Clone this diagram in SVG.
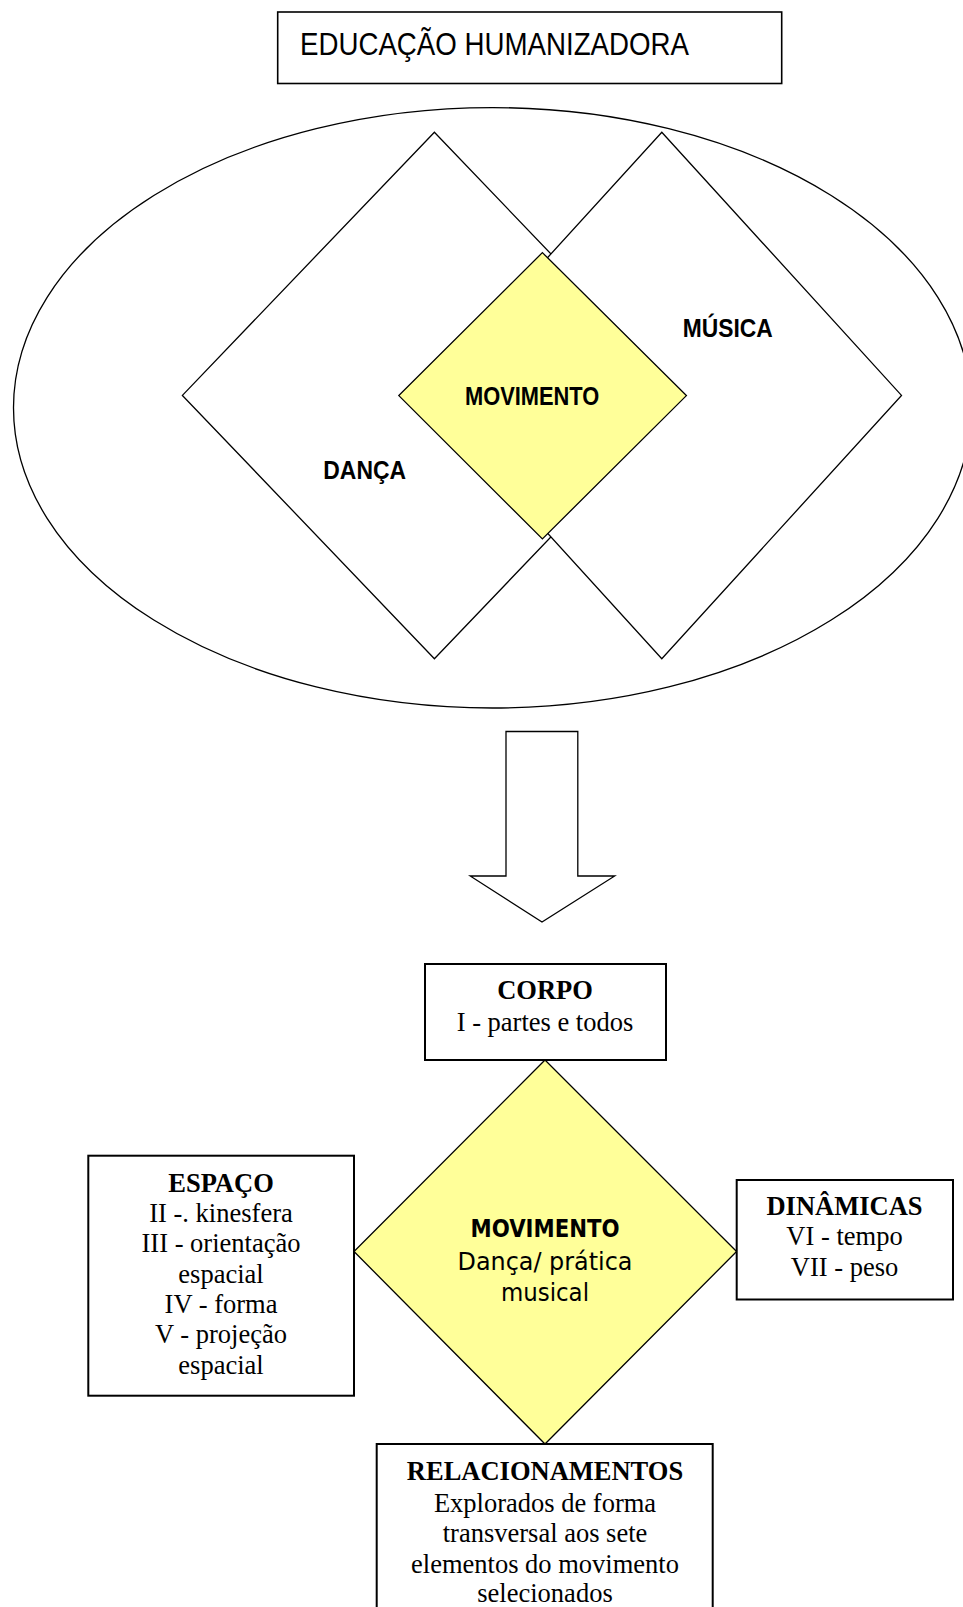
<svg xmlns="http://www.w3.org/2000/svg" width="963" height="1607" viewBox="0 0 963 1607">
<style>
.ln{fill:#fff;stroke:#000;stroke-width:1.3}
.yl{fill:#ffff99;stroke:#000;stroke-width:1.3}
.bx{fill:#fff;stroke:#000;stroke-width:2}
.nar{font-family:"Liberation Sans",Arial,sans-serif;fill:#000}
.nb{font-family:"Liberation Sans",Arial,sans-serif;font-weight:bold;font-size:26.5px;fill:#000}
.sf{font-family:"Liberation Serif","Times New Roman",serif;font-size:26.5px;fill:#000;text-anchor:middle}
.sfb{font-weight:bold}
.ss{font-family:"DejaVu Sans",Verdana,sans-serif;font-size:24px;fill:#000;text-anchor:middle}
</style>
<rect width="963" height="1607" fill="#fff"/>
<g id="title">
<rect x="277.7" y="12" width="504" height="71.5" class="bx" style="stroke-width:1.6"/>
<text x="300" y="54.5" class="nar" font-size="31.5" textLength="389" lengthAdjust="spacingAndGlyphs">EDUCAÇÃO HUMANIZADORA</text>
</g>
<g id="ellipse">
<ellipse cx="492.5" cy="407.8" rx="479" ry="300.2" class="ln"/>
</g>
<g id="danca">
<polygon points="434.4,132.2 686.4,395.4 434.4,658.7 182.4,395.4" class="ln"/>
<text x="323.3" y="479.3" class="nb" textLength="82.7" lengthAdjust="spacingAndGlyphs">DANÇA</text>
</g>
<g id="musica">
<polygon points="661.8,132.2 901.5,395.4 661.8,658.7 422.1,395.4" class="ln"/>
<text x="682.7" y="337.3" class="nb" textLength="90" lengthAdjust="spacingAndGlyphs">MÚSICA</text>
</g>
<g id="movimento-top">
<polygon points="542.4,252.6 686.4,395.6 542.4,538.9 398.8,395.6" class="yl"/>
<text x="465" y="405.3" class="nb" font-size="25" textLength="134.3" lengthAdjust="spacingAndGlyphs">MOVIMENTO</text>
</g>
<g id="connectors">
<polygon points="506,731.5 577.8,731.5 577.8,876 614.7,876 542,922 470.2,876 506,876" class="ln"/>
</g>
<g id="corpo">
<rect x="425" y="964" width="241" height="96" class="bx"/>
<text x="545" y="999.3" class="sf sfb">CORPO</text>
<text x="545" y="1031" class="sf">I - partes e todos</text>
</g>
<g id="movimento">
<polygon points="545,1060 736.6,1251.5 545,1444 354,1251.5" class="yl"/>
<text x="545" y="1237" class="ss" font-weight="bold" textLength="149" lengthAdjust="spacingAndGlyphs">MOVIMENTO</text>
<text x="545" y="1269.5" class="ss" textLength="175" lengthAdjust="spacingAndGlyphs">Dança/ prática</text>
<text x="545" y="1301" class="ss" textLength="88" lengthAdjust="spacingAndGlyphs">musical</text>
</g>
<g id="espaco">
<rect x="88.3" y="1155.7" width="265.7" height="240" class="bx"/>
<text x="221" y="1191.7" class="sf sfb">ESPAÇO</text>
<text x="221" y="1222" class="sf">II -. kinesfera</text>
<text x="221" y="1252.3" class="sf">III - orientação</text>
<text x="221" y="1282.6" class="sf">espacial</text>
<text x="221" y="1312.9" class="sf">IV - forma</text>
<text x="221" y="1343.2" class="sf">V - projeção</text>
<text x="221" y="1373.5" class="sf">espacial</text>
</g>
<g id="dinamicas">
<rect x="736.7" y="1180" width="216.3" height="119.5" class="bx"/>
<text x="844.5" y="1215" class="sf sfb">DINÂMICAS</text>
<text x="844.5" y="1245.3" class="sf">VI - tempo</text>
<text x="844.5" y="1275.6" class="sf">VII - peso</text>
</g>
<g id="relacionamentos">
<rect x="376.7" y="1444" width="336" height="175" class="bx"/>
<text x="545" y="1480" class="sf sfb">RELACIONAMENTOS</text>
<text x="545" y="1511.5" class="sf">Explorados de forma</text>
<text x="545" y="1542" class="sf">transversal aos sete</text>
<text x="545" y="1572.5" class="sf">elementos do movimento</text>
<text x="545" y="1602" class="sf">selecionados</text>
</g>
</svg>
